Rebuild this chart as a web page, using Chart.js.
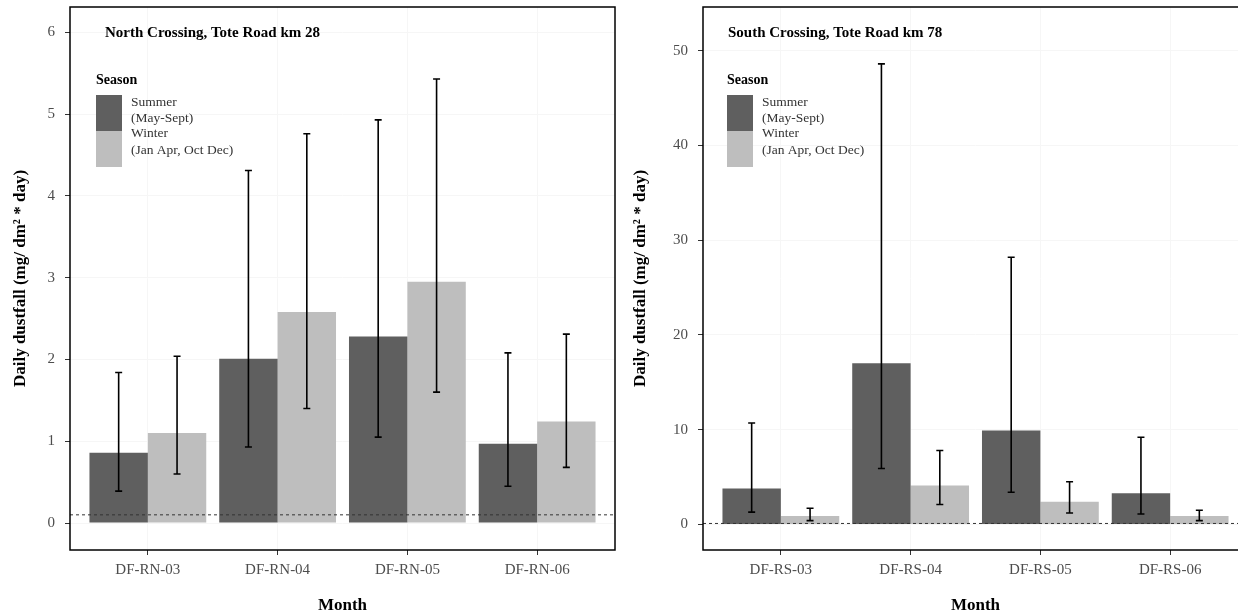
<!DOCTYPE html>
<html>
<head>
<meta charset="utf-8">
<script src="https://cdn.jsdelivr.net/npm/chart.js@4/dist/chart.umd.min.js"></script>
<style>
  html, body { margin: 0; padding: 0; background: #fff; overflow: hidden; }
  #wrap { position: relative; width: 1238px; height: 616px; overflow: hidden; }
  #cN { position: absolute; left: 0; top: 0; }
  #cS { position: absolute; left: 620px; top: 0; }
</style>
</head>
<body>
<div id="wrap">
  <canvas id="cN" width="620" height="616"></canvas>
  <canvas id="cS" width="640" height="616"></canvas>
</div>
<script>
// ---- data ----
var northSites = ['DF-RN-03', 'DF-RN-04', 'DF-RN-05', 'DF-RN-06'];
var northSummer = [0.86, 2.01, 2.28, 0.97];
var northSummerLow = [0.39, 0.93, 1.05, 0.45];
var northSummerHigh = [1.84, 4.31, 4.93, 2.08];
var northWinter = [1.10, 2.58, 2.95, 1.24];
var northWinterLow = [0.60, 1.40, 1.60, 0.68];
var northWinterHigh = [2.04, 4.76, 5.43, 2.31];
var northTicks = [0, 1, 2, 3, 4, 5, 6];

var southSites = ['DF-RS-03', 'DF-RS-04', 'DF-RS-05', 'DF-RS-06'];
var southSummer = [3.8, 17.0, 9.9, 3.3];
var southSummerLow = [1.3, 5.9, 3.4, 1.1];
var southSummerHigh = [10.7, 48.6, 28.2, 9.2];
var southWinter = [0.9, 4.1, 2.4, 0.9];
var southWinterLow = [0.4, 2.1, 1.2, 0.4];
var southWinterHigh = [1.7, 7.8, 4.5, 1.5];
var southTicks = [0, 10, 20, 30, 40, 50];

var seasonNames = ['Summer', 'Winter'];
var seasonNotes = ['(May-Sept)', '(Jan Apr, Oct Dec)'];
var guideLevel = 0.1;

var SERIF = '"Liberation Serif", "DejaVu Serif", serif';
var summerColor = '#5f5f5f';
var winterColor = '#bebebe';

// error bars, dashed guide line, frame, title and legend
var panelDeco = {
  id: 'panelDeco',
  afterDatasetsDraw: function (chart, args, opts) {
    var ctx = chart.ctx, yScale = chart.scales.y, area = chart.chartArea;
    ctx.save();
    // dashed guide
    var gy = yScale.getPixelForValue(guideLevel);
    ctx.setLineDash([3, 3]);
    ctx.strokeStyle = '#333';
    ctx.lineWidth = 1;
    ctx.beginPath();
    ctx.moveTo(area.left, gy);
    ctx.lineTo(area.right, gy);
    ctx.stroke();
    ctx.setLineDash([]);
    // error bars
    ctx.strokeStyle = '#000';
    ctx.lineWidth = 1.6;
    chart.data.datasets.forEach(function (ds, di) {
      var meta = chart.getDatasetMeta(di);
      meta.data.forEach(function (bar, i) {
        var x = bar.x;
        var y1 = yScale.getPixelForValue(ds.errLow[i]);
        var y2 = yScale.getPixelForValue(ds.errHigh[i]);
        ctx.beginPath();
        ctx.moveTo(x, y1); ctx.lineTo(x, y2);
        ctx.moveTo(x - 3.5, y1); ctx.lineTo(x + 3.5, y1);
        ctx.moveTo(x - 3.5, y2); ctx.lineTo(x + 3.5, y2);
        ctx.stroke();
      });
    });
    ctx.restore();
  },
  afterDraw: function (chart, args, opts) {
    var ctx = chart.ctx, area = chart.chartArea;
    ctx.save();
    ctx.strokeStyle = '#000';
    ctx.lineWidth = 1.5;
    ctx.strokeRect(area.left, area.top, area.right - area.left, area.bottom - area.top);

    ctx.fillStyle = '#000';
    ctx.textBaseline = 'middle';
    ctx.textAlign = 'left';
    ctx.font = 'bold 15px ' + SERIF;
    ctx.fillText(opts.title, area.left + opts.titleOffset, 33);

    var lx = area.left + opts.legendOffset;
    ctx.font = 'bold 14px ' + SERIF;
    ctx.fillText('Season', lx, 80);
    ctx.font = '13.5px ' + SERIF;
    var lineY = [[102, 118], [133, 150]];
    chart.data.datasets.forEach(function (ds, di) {
      var top = 95 + di * 36;
      ctx.fillStyle = ds.backgroundColor;
      ctx.fillRect(lx, top, 26, 36);
      ctx.fillStyle = '#333';
      ctx.fillText(seasonNames[di], lx + 35, lineY[di][0]);
      ctx.fillText(seasonNotes[di], lx + 35, lineY[di][1]);
    });
    ctx.restore();
  }
};

function buildPanel(canvasId, sites, summer, sLow, sHigh, winter, wLow, wHigh, yTicks, yMin, yMax, deco) {
  var points = function (arr) { return arr.map(function (v, i) { return { x: i, y: v }; }); };
  return new Chart(document.getElementById(canvasId), {
    type: 'bar',
    data: {
      datasets: [
        { label: seasonNames[0], data: points(summer), errLow: sLow, errHigh: sHigh,
          backgroundColor: summerColor, borderWidth: 0 },
        { label: seasonNames[1], data: points(winter), errLow: wLow, errHigh: wHigh,
          backgroundColor: winterColor, borderWidth: 0 }
      ]
    },
    options: {
      responsive: false,
      animation: false,
      devicePixelRatio: 1,
      barPercentage: 1,
      categoryPercentage: 0.9,
      layout: { padding: { left: 0, top: 7, right: deco.padRight, bottom: 0 } },
      plugins: {
        legend: { display: false },
        tooltip: { enabled: false },
        panelDeco: deco
      },
      scales: {
        x: {
          type: 'linear',
          min: -0.6,
          max: 3.6,
          offset: false,
          afterBuildTicks: function (s) { s.ticks = sites.map(function (_, i) { return { value: i }; }); },
          afterFit: function (s) { s.height = 66; },
          ticks: {
            callback: function (v) { return sites[v]; },
            font: { family: SERIF, size: 15 },
            color: '#4d4d4d',
            padding: 6,
            maxRotation: 0,
            autoSkip: false
          },
          grid: { offset: false, color: '#f6f6f6', tickColor: '#333', tickLength: 5 },
          border: { display: false },
          title: {
            display: true,
            text: 'Month',
            font: { family: SERIF, size: 17, weight: 'bold' },
            color: '#000',
            padding: { top: 0, bottom: 0 }
          }
        },
        y: {
          min: yMin,
          max: yMax,
          afterBuildTicks: function (s) { s.ticks = yTicks.map(function (v) { return { value: v }; }); },
          afterFit: function (s) {
            s.width = deco.axisWidth;
            s.paddingTop = 0;
            s.paddingBottom = 0;
          },
          ticks: {
            callback: function (v) { return v; },
            font: { family: SERIF, size: 15 },
            color: '#4d4d4d',
            padding: 10
          },
          grid: { color: '#f6f6f6', tickColor: '#333', tickLength: 5 },
          border: { display: false },
          title: {
            display: true,
            text: 'Daily dustfall (mg/ dm² * day)',
            font: { family: SERIF, size: 17, weight: 'bold' },
            color: '#000',
            padding: { top: 10, bottom: 0 }
          }
        }
      }
    },
    plugins: [panelDeco]
  });
}

buildPanel('cN', northSites, northSummer, northSummerLow, northSummerHigh,
  northWinter, northWinterLow, northWinterHigh, northTicks, -0.33, 6.31,
  { title: 'North Crossing, Tote Road km 28', titleOffset: 35, legendOffset: 26, axisWidth: 70, padRight: 5 });

buildPanel('cS', southSites, southSummer, southSummerLow, southSummerHigh,
  southWinter, southWinterLow, southWinterHigh, southTicks, -2.7, 54.6,
  { title: 'South Crossing, Tote Road km 78', titleOffset: 25, legendOffset: 24, axisWidth: 83, padRight: 12 });
</script>
</body>
</html>
